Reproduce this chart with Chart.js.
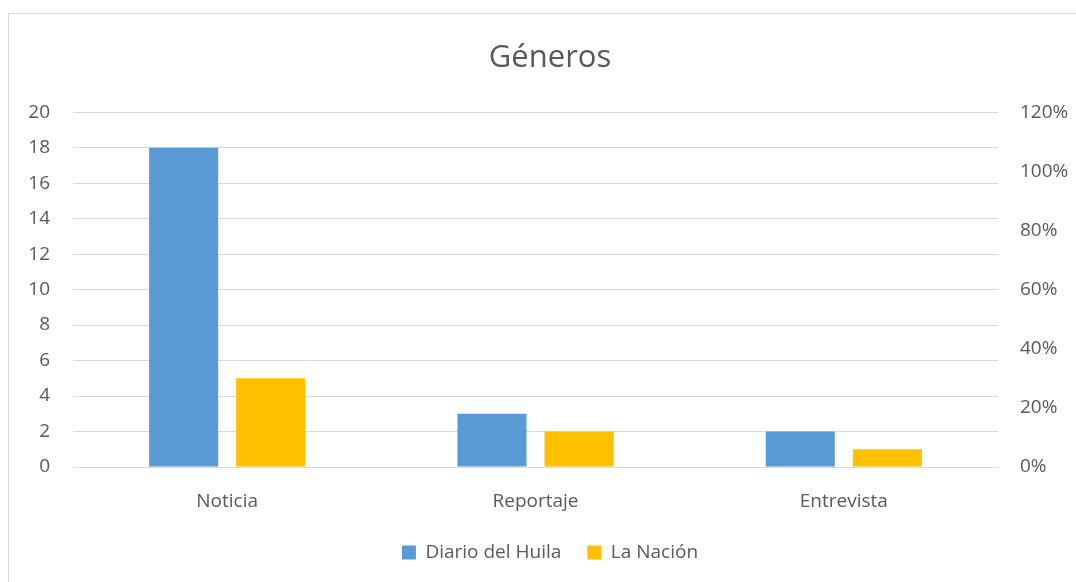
<!DOCTYPE html>
<html>
<head>
<meta charset="utf-8">
<script src="https://cdn.jsdelivr.net/npm/chart.js@4"></script>
<style>
  html, body { margin: 0; padding: 0; background: #fff; overflow: hidden; }
  #wrap { position: relative; width: 1076px; height: 582px; }
  #frame { position: absolute; left: 8px; top: 13px; width: 1100px; height: 600px; border: 1px solid #D9D9D9; box-sizing: border-box; }
  canvas { position: absolute; left: 0; top: 0; }
</style>
</head>
<body>
<div id="wrap">
  <div id="frame"></div>
  <canvas id="chart" width="1076" height="582"></canvas>
</div>
<script>
// data
const categories = ['Noticia', 'Reportaje', 'Entrevista'];
const diarioHuila = [18, 3, 2];
const laNacion = [5, 2, 1];
const seriesNames = ['Diario del Huila', 'La Nación'];

const textColor = '#595959';
const gridColor = '#D9D9D9';
const font = { family: '"Open Sans", sans-serif', size: 19 };

const ctx = document.getElementById('chart').getContext('2d');
new Chart(ctx, {
    type: 'bar',
    data: {
        labels: categories,
        datasets: [
            { label: seriesNames[0], data: diarioHuila, backgroundColor: '#5B9BD5', yAxisID: 'y' },
            { label: seriesNames[1], data: laNacion, backgroundColor: '#FFC000', yAxisID: 'y' }
        ]
    },
    options: {
        responsive: false,
        animation: false,
        layout: { padding: { left: 24, right: 0, top: 0, bottom: 10 } },
        datasets: { bar: { categoryPercentage: 0.565, barPercentage: 0.793 } },
        plugins: {
            title: {
                display: true,
                text: 'Géneros',
                color: textColor,
                font: { family: font.family, size: 31, weight: 'normal' },
                padding: { top: 40, bottom: 35 }
            },
            legend: {
                position: 'bottom',
                labels: { color: textColor, font: font, boxWidth: 14, boxHeight: 14, padding: 26 }
            },
            tooltip: { enabled: false }
        },
        scales: {
            x: {
                grid: { display: false },
                border: { color: gridColor },
                ticks: { color: textColor, font: font, padding: 15 },
                afterFit: s => { s.height = 50; }
            },
            y: {
                position: 'left',
                min: 0, max: 20,
                grid: { color: gridColor, drawTicks: false },
                border: { display: false },
                ticks: { stepSize: 2, color: textColor, font: font, padding: 23 },
                afterFit: s => { s.width = 49; }
            },
            y2: {
                position: 'right',
                display: true,
                min: 0, max: 1.2,
                grid: { display: false, drawTicks: false },
                border: { display: false },
                ticks: { stepSize: 0.2, color: textColor, font: font, padding: 22,
                    callback: v => Math.round(v * 100) + '%' },
                afterFit: s => { s.width = 78; }
            }
        }
    }
});
</script>
</body>
</html>
